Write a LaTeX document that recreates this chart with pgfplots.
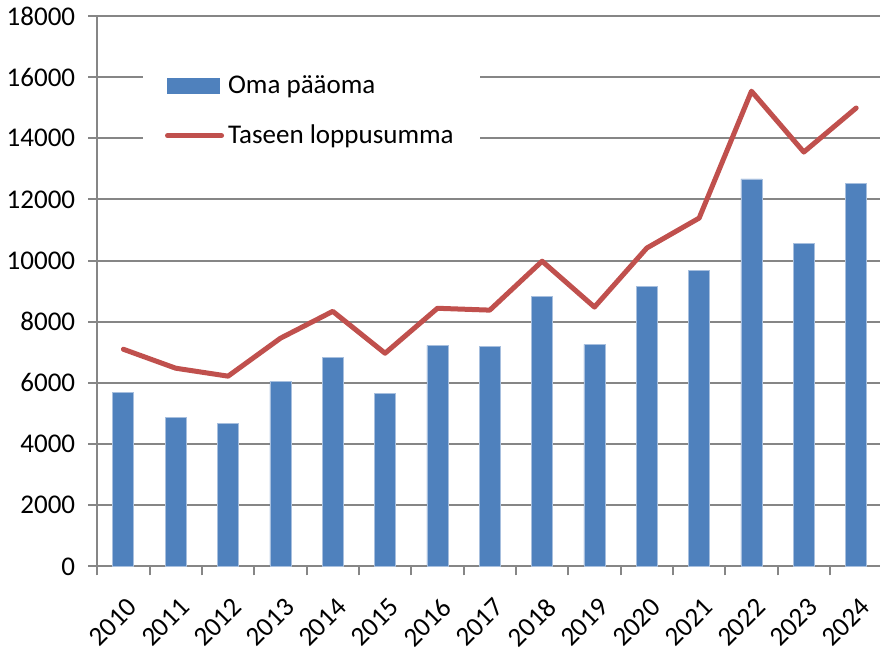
\documentclass[border=0pt]{standalone}
\usepackage{fontspec}
\setmainfont{Carlito}
\usepackage{pgfplots}
\pgfplotsset{compat=1.18}
\definecolor{barblue}{HTML}{4F81BD}
\definecolor{baredge}{HTML}{A7BFDE}
\definecolor{linered}{HTML}{C0504D}
\definecolor{axgray}{HTML}{868686}
\begin{document}
\begin{tikzpicture}
\begin{axis}[
 scale only axis,
 width=391pt, height=275pt,
 xmin=-0.5, xmax=14.45, ymin=0, ymax=18000,
 axis x line*=bottom, axis y line*=left,
 axis line style={axgray, line width=1pt, -},
 ytick={0,2000,...,18000},
 scaled y ticks=false,
 ymajorgrids, grid style={axgray, line width=1pt},
 xtick={0,...,14},
 xticklabels={2010,2011,2012,2013,2014,2015,2016,2017,2018,2019,2020,2021,2022,2023,2024},
 minor xtick={-0.5,0.5,...,14.5},
 major x tick style={draw=none},
 minor x tick style={axgray, line width=1pt},
 minor tick length=4.5pt,
 tick align=outside,
 y tick style={axgray, line width=1pt},
 major tick length=4.5pt,
 /pgf/number format/1000 sep={},
 /pgf/number format/assume math mode=true,
 tick label style={font=\fontsize{13.5}{15}\selectfont, black},
 yticklabel style={xshift=-3pt},
 xticklabel style={rotate=45, anchor=east, xshift=-3pt, yshift=-13pt},
 legend style={at={(0.058,0.91)}, anchor=north west, draw=none, fill=white,
   font=\fontsize{13.5}{15}\selectfont, row sep=10pt, inner xsep=11pt, inner ysep=3pt},
 legend cell align=left,
]
\addplot[ybar, bar width=10.5pt, fill=barblue, draw=baredge, line width=0.4pt,
  legend image code/.code={\fill[barblue] (0pt,-3.75pt) rectangle (26pt,3.75pt);}]
 coordinates {(0,5700) (1,4880) (2,4680) (3,6050) (4,6840) (5,5660) (6,7230) (7,7200)
 (8,8830) (9,7260) (10,9160) (11,9690) (12,12670) (13,10570) (14,12510)};
\addlegendentry{Oma pääoma}
\addplot[sharp plot, no marks, linered, line width=2.5pt, line join=round, line cap=round,
  legend image code/.code={\draw[linered, line width=2.5pt, line cap=round] (0pt,0pt) -- (27pt,0pt);}]
 coordinates {(0,7100) (1,6480) (2,6220) (3,7460) (4,8340) (5,6970) (6,8440) (7,8380)
 (8,9980) (9,8480) (10,10410) (11,11390) (12,15540) (13,13550) (14,14990)};
\addlegendentry{Taseen loppusumma}
\end{axis}
\end{tikzpicture}
\end{document}
